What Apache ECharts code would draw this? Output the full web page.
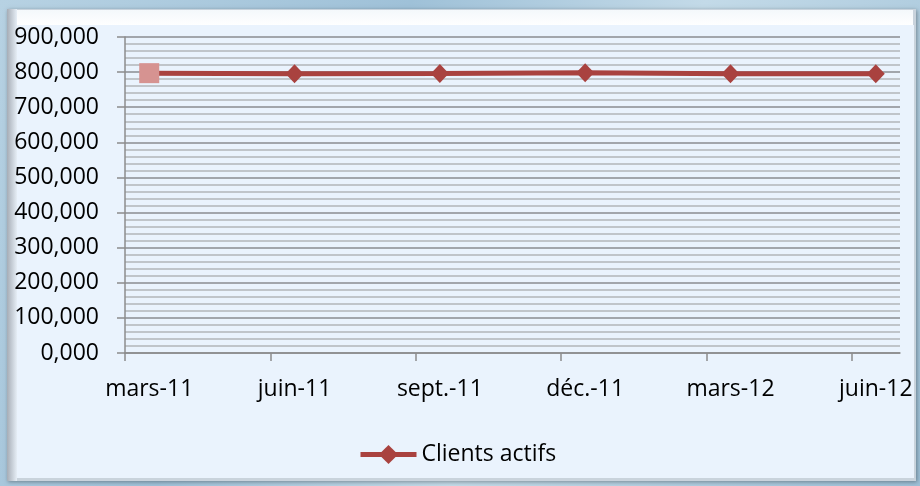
<!DOCTYPE html>
<html>
<head>
<meta charset="utf-8">
<script src="https://cdn.jsdelivr.net/npm/echarts@6/dist/echarts.min.js"></script>
<style>
html,body{margin:0;padding:0;background:#a9c7db;}
#chart{width:920px;height:486px;}
</style>
</head>
<body>
<div id="chart"></div>
<script>
// ---- data ----
const tickLabels = ['mars-11', 'juin-11', 'sept.-11', 'déc.-11', 'mars-12', 'juin-12'];
const tickMonths = [0, 3, 6, 9, 12, 15];          // months since March 2011 (start of month)
const pointMonths = [0.5, 3.5, 6.5, 9.5, 12.5, 15.5]; // data points sit mid-month
const clientsActifs = [797, 795, 796, 798, 795, 795];
const seriesName = 'Clients actifs';

const FONT = '"Open Sans", sans-serif';
const chart = echarts.init(document.getElementById('chart'), null, {renderer: 'canvas'});

const seriesData = pointMonths.map((m, i) => {
  const item = {value: [m, clientsActifs[i]]};
  if (i === 0) {
    item.symbol = 'rect';
    item.symbolSize = 20;
    item.itemStyle = {color: '#D69391'};
  }
  return item;
});

chart.setOption({
  animation: false,
  backgroundColor: 'transparent',
  graphic: [
    {
      type: 'rect', z: -20, silent: true,
      shape: {x: 0, y: 0, width: 920, height: 486},
      style: {
        fill: new echarts.graphic.LinearGradient(0, 0, 1, 1, [
          {offset: 0, color: '#b7d2e3'},
          {offset: 0.35, color: '#9fc1d8'},
          {offset: 0.6, color: '#c3dae8'},
          {offset: 1, color: '#9cbfd6'}
        ])
      }
    },
    {
      type: 'rect', z: -19, silent: true,
      shape: {x: 7, y: 9, width: 909, height: 472},
      style: {fill: '#c9d3dc', shadowBlur: 4, shadowColor: 'rgba(0,0,0,0.35)', shadowOffsetX: 1, shadowOffsetY: 1}
    },
    {
      type: 'rect', z: -18, silent: true,
      shape: {x: 9, y: 10, width: 904, height: 16},
      style: {
        fill: new echarts.graphic.LinearGradient(0, 0, 0, 1, [
          {offset: 0, color: '#f4f8fb'},
          {offset: 1, color: '#ffffff'}
        ])
      }
    },
    {
      type: 'rect', z: -18, silent: true,
      shape: {x: 7, y: 9, width: 10, height: 472},
      style: {
        fill: new echarts.graphic.LinearGradient(0, 0, 1, 0, [
          {offset: 0, color: '#a6adb6'},
          {offset: 1, color: '#e6eef6'}
        ])
      }
    },
    {
      type: 'rect', z: -17, silent: true,
      shape: {x: 17, y: 25, width: 897, height: 453},
      style: {fill: '#EAF3FD'}
    }
  ],
  grid: {left: 125, right: 20, top: 37, bottom: 133, containLabel: false},
  legend: {
    data: [seriesName],
    left: 358,
    top: 443,
    padding: 0,
    itemWidth: 56,
    itemHeight: 24,
    lineStyle: {width: 5, color: '#A9423F'},
    textStyle: {fontFamily: FONT, fontSize: 23, color: '#000'}
  },
  xAxis: {
    type: 'value',
    min: 0,
    max: 16,
    interval: 3,
    axisLine: {show: true, lineStyle: {color: '#8c8c8c', width: 1.5}},
    axisTick: {show: true, length: 8, customValues: tickMonths, lineStyle: {color: '#8c8c8c', width: 1.5}},
    axisLabel: {
      customValues: pointMonths,
      margin: 25,
      fontFamily: FONT, fontSize: 23, color: '#000',
      formatter: v => tickLabels[Math.round(v - 0.5) / 3] || ''
    },
    splitLine: {show: false}
  },
  yAxis: {
    type: 'value',
    min: 0,
    max: 900,
    interval: 100,
    axisLine: {show: true, lineStyle: {color: '#8c8c8c', width: 1.5}},
    axisTick: {show: true, length: 8, inside: false, lineStyle: {color: '#8c8c8c', width: 1.5}},
    minorTick: {show: false, splitNumber: 5},
    minorSplitLine: {show: true, lineStyle: {color: '#b3b6b9', width: 1.5}},
    splitLine: {show: true, lineStyle: {color: '#8a8d90', width: 1.5}},
    axisLabel: {
      margin: 26,
      fontFamily: FONT, fontSize: 23, color: '#000',
      formatter: v => v.toFixed(3).replace('.', ',')
    }
  },
  series: [{
    name: seriesName,
    type: 'line',
    data: seriesData,
    symbol: 'diamond',
    symbolSize: [18, 19],
    showAllSymbol: true,
    color: '#A9423F',
    lineStyle: {color: '#A9423F', width: 5},
    itemStyle: {color: '#A9423F'}
  }]
});
</script>
</body>
</html>
